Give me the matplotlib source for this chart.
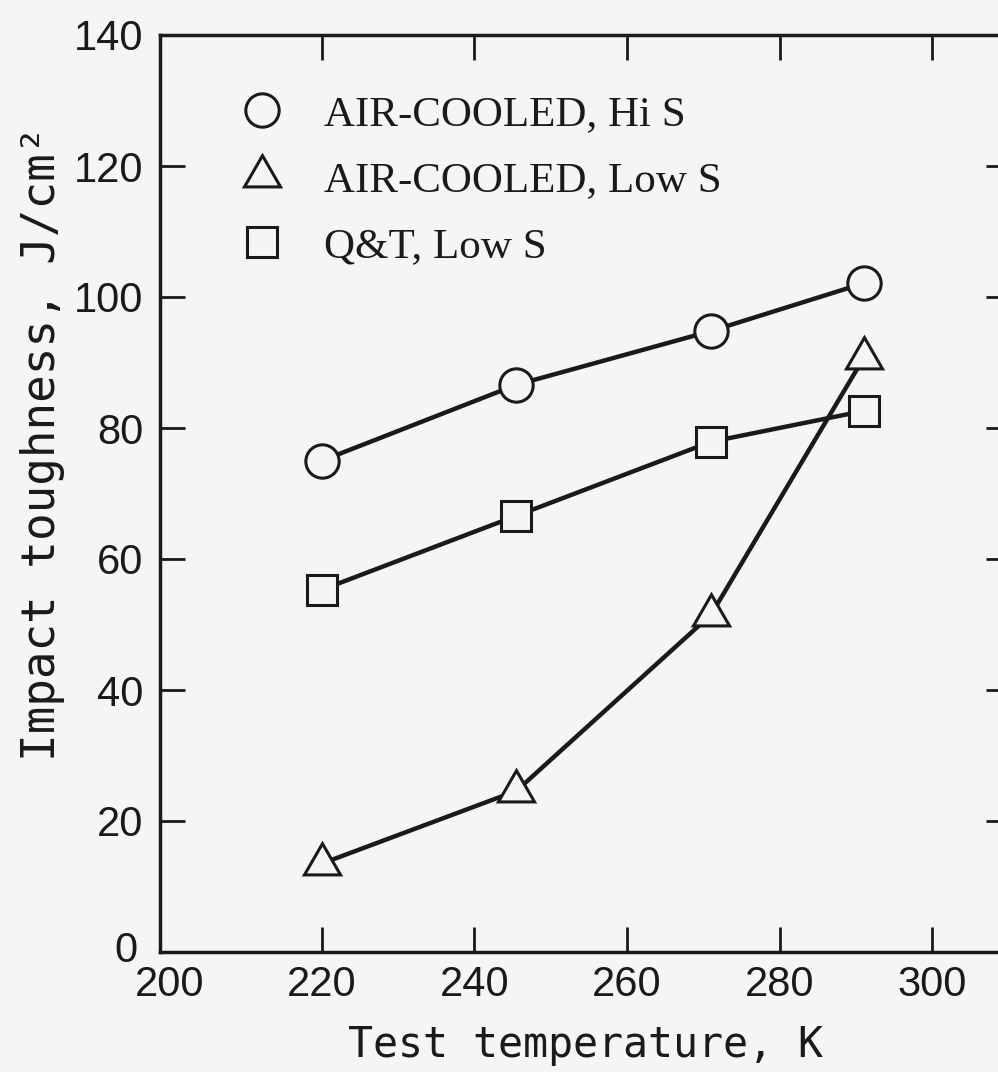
import matplotlib
matplotlib.use("Agg")
import matplotlib.pyplot as plt
import matplotlib.transforms as mtransforms
from matplotlib.lines import Line2D

# ---- data ----
temp = [220, 245.5, 271, 291]
hi_s_air = [75.0, 86.6, 94.8, 102.1]
qt_low_s = [55.3, 66.6, 77.9, 82.6]
low_s_air = [13.5, 24.6, 51.5, 90.7]

labels = ["AIR-COOLED, Hi S", "AIR-COOLED, Low S", "Q&T, Low S"]
xticks = [200, 220, 240, 260, 280, 300]
yticks = [0, 20, 40, 60, 80, 100, 120, 140]

bg = "#f5f5f8"
ink = "#1a1a1a"

W, H = 998, 1072
fig = plt.figure(figsize=(W / 100, H / 100), dpi=100, facecolor=bg)
ax = fig.add_axes([160 / W, (H - 952) / H, 851 / W, 917 / H])
ax.set_facecolor(bg)

tri = (3, 0, 0)
common = dict(color=ink, lw=3.2, markerfacecolor=bg, markeredgecolor=ink,
              markeredgewidth=2.2, clip_on=False)
ax.plot(temp, hi_s_air, marker="o", ms=24, **common)
ax.plot(temp, qt_low_s, marker="s", ms=22, **common)
ax.plot(temp, low_s_air, marker=tri, ms=30, **common)

ax.set_xlim(198.8, 310.3)
ax.set_ylim(0, 140)
ax.set_xticks(xticks)
ax.set_yticks(yticks)
ax.set_xticklabels([str(v) for v in xticks])
ax.set_yticklabels([str(v) for v in yticks])

for s in ax.spines.values():
    s.set_linewidth(2.5)
    s.set_color(ink)

ax.tick_params(axis="both", which="major", direction="in", length=18, width=2,
               color=ink, top=True, right=True, labelsize=30, labelcolor=ink)
ax.tick_params(axis="x", pad=9)
ax.tick_params(axis="y", pad=12)
for lab in ax.get_xticklabels() + ax.get_yticklabels():
    lab.set_family("Liberation Sans")

# no tick mark at the 200 K position (left spine sits just left of it)
t0 = ax.xaxis.get_major_ticks()[0]
t0.tick1line.set_visible(False)
t0.tick2line.set_visible(False)

# nudge the corner "0" label up/left so it sits diagonally off "200"
zero = ax.yaxis.get_major_ticks()[0].label1
zero.set_transform(zero.get_transform() +
                   mtransforms.ScaledTranslation(-6 / 100, 5 / 100, fig.dpi_scale_trans))

ax.set_xlabel("Test temperature, K", fontsize=30, family="DejaVu Sans Mono",
              color=ink, labelpad=14)
ax.set_ylabel("Impact toughness, J/cm²", fontsize=33, family="DejaVu Sans Mono",
              color=ink)
ax.yaxis.set_label_coords(-0.112, 0.555)

mk = dict(ls="none", markerfacecolor=bg, markeredgecolor=ink, markeredgewidth=2.2)
handles = [
    Line2D([], [], marker="o", ms=24, **mk),
    Line2D([], [], marker=tri, ms=30, **mk),
    Line2D([], [], marker="s", ms=22, **mk),
]
leg = ax.legend(handles, labels, loc="upper left", bbox_to_anchor=(0.0946, 0.935),
                frameon=False, borderpad=0, borderaxespad=0, handlelength=1.0,
                handletextpad=0.95, labelspacing=0.63,
                prop={"family": "Liberation Serif", "size": 31})
for t in leg.get_texts():
    t.set_color(ink)

fig.savefig("out.png", dpi=100, facecolor=bg)
